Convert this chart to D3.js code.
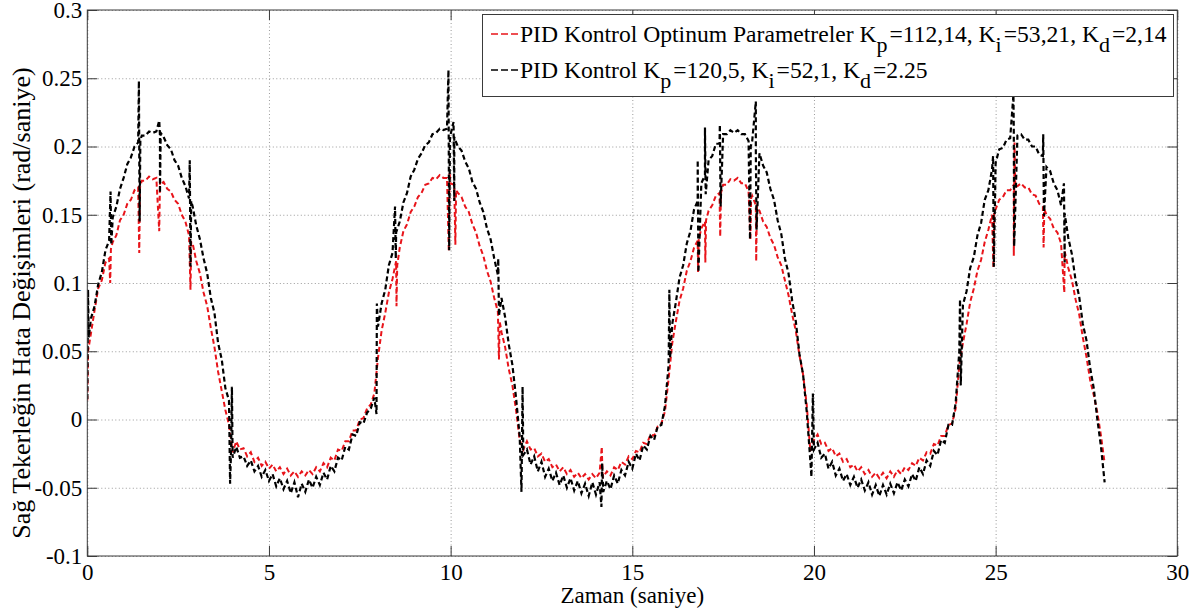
<!DOCTYPE html>
<html>
<head>
<meta charset="utf-8">
<script src="https://cdn.jsdelivr.net/npm/d3@7/dist/d3.min.js"></script>
<style>
  body { margin: 0; background: #fff; }
  svg { display: block; }
</style>
</head>
<body>
<svg id="chart" width="1199" height="612"></svg>
<script>
// Sampling step of the logged error signals (seconds)
const sampleStep = 0.1;

// Wheel error, PID with Kp=120.5, Ki=52.1, Kd=2.25 (rad/s), t = 0 … 28 s
const blackValues = [
  0.015, 0.074, 0.083, 0.099, 0.108, 0.124, 0.131, 0.148, 0.156, 0.169,
  0.177, 0.187, 0.192, 0.200, 0.203, 0.208, 0.208, 0.211, 0.210, 0.211,
  0.208, 0.207, 0.201, 0.198, 0.190, 0.186, 0.177, 0.171, 0.162, 0.156,
  0.142, 0.132, 0.118, 0.107, 0.089, 0.078, 0.056, 0.044, 0.023, 0.014,
  -0.028, -0.020, -0.028, -0.027, -0.034, -0.030, -0.038, -0.034, -0.042, -0.037,
  -0.045, -0.040, -0.049, -0.043, -0.051, -0.045, -0.054, -0.046, -0.057, -0.047,
  -0.053, -0.044, -0.050, -0.042, -0.048, -0.039, -0.044, -0.034, -0.038, -0.028,
  -0.030, -0.020, -0.022, -0.011, -0.012, -0.002, -0.003, 0.005, 0.008, 0.016,
  0.068, 0.085, 0.095, 0.113, 0.122, 0.137, 0.145, 0.159, 0.166, 0.178,
  0.183, 0.191, 0.195, 0.201, 0.203, 0.209, 0.210, 0.213, 0.212, 0.213,
  0.209, 0.207, 0.200, 0.197, 0.189, 0.184, 0.174, 0.169, 0.159, 0.152,
  0.140, 0.132, 0.118, 0.106, 0.089, 0.075, 0.055, 0.040, 0.016, -0.012,
  -0.026, -0.022, -0.033, -0.027, -0.038, -0.031, -0.042, -0.036, -0.045, -0.039,
  -0.048, -0.041, -0.050, -0.043, -0.052, -0.045, -0.054, -0.047, -0.056, -0.046,
  -0.055, -0.046, -0.053, -0.045, -0.051, -0.041, -0.047, -0.037, -0.041, -0.031,
  -0.036, -0.025, -0.030, -0.019, -0.022, -0.012, -0.015, -0.005, -0.004, 0.010,
  0.040, 0.070, 0.086, 0.104, 0.113, 0.129, 0.138, 0.154, 0.160, 0.173,
  0.179, 0.190, 0.193, 0.202, 0.202, 0.209, 0.209, 0.212, 0.210, 0.212,
  0.209, 0.209, 0.204, 0.204, 0.197, 0.195, 0.186, 0.181, 0.169, 0.161,
  0.146, 0.136, 0.118, 0.107, 0.087, 0.072, 0.048, 0.033, 0.006, -0.030,
  -0.022, -0.017, -0.028, -0.025, -0.036, -0.031, -0.041, -0.036, -0.045, -0.040,
  -0.048, -0.042, -0.050, -0.044, -0.052, -0.046, -0.055, -0.048, -0.056, -0.048,
  -0.055, -0.047, -0.054, -0.046, -0.052, -0.044, -0.049, -0.040, -0.045, -0.035,
  -0.040, -0.030, -0.034, -0.023, -0.026, -0.015, -0.017, -0.004, -0.004, 0.012,
  0.050, 0.084, 0.094, 0.111, 0.119, 0.135, 0.144, 0.161, 0.168, 0.183,
  0.188, 0.198, 0.199, 0.205, 0.206, 0.210, 0.208, 0.209, 0.205, 0.205,
  0.200, 0.200, 0.194, 0.193, 0.185, 0.182, 0.173, 0.168, 0.157, 0.151,
  0.133, 0.121, 0.102, 0.090, 0.070, 0.058, 0.038, 0.023, 0.000, -0.020,
  -0.046
];

// Wheel error, PID with optimum parameters Kp=112.14, Ki=53.21, Kd=2.14 (rad/s)
const redValues = [
  0.014, 0.063, 0.080, 0.096, 0.102, 0.115, 0.118, 0.130, 0.135, 0.146,
  0.150, 0.158, 0.161, 0.168, 0.170, 0.175, 0.175, 0.178, 0.176, 0.177,
  0.174, 0.174, 0.169, 0.167, 0.161, 0.158, 0.150, 0.145, 0.135, 0.129,
  0.116, 0.107, 0.093, 0.083, 0.067, 0.053, 0.035, 0.021, 0.007, -0.004,
  -0.024, -0.016, -0.022, -0.021, -0.027, -0.024, -0.031, -0.028, -0.034, -0.031,
  -0.036, -0.033, -0.038, -0.035, -0.040, -0.036, -0.041, -0.038, -0.042, -0.038,
  -0.041, -0.037, -0.040, -0.035, -0.038, -0.032, -0.035, -0.028, -0.030, -0.022,
  -0.023, -0.016, -0.016, -0.008, -0.008, 0.000, 0.001, 0.008, 0.011, 0.019,
  0.045, 0.065, 0.078, 0.093, 0.103, 0.116, 0.126, 0.138, 0.143, 0.152,
  0.156, 0.163, 0.166, 0.172, 0.173, 0.177, 0.176, 0.179, 0.177, 0.177,
  0.173, 0.172, 0.166, 0.163, 0.156, 0.152, 0.143, 0.137, 0.127, 0.120,
  0.109, 0.101, 0.089, 0.079, 0.064, 0.053, 0.037, 0.025, 0.007, -0.015,
  -0.022, -0.016, -0.022, -0.021, -0.027, -0.025, -0.031, -0.029, -0.035, -0.033,
  -0.038, -0.035, -0.040, -0.037, -0.042, -0.039, -0.043, -0.040, -0.044, -0.040,
  -0.043, -0.039, -0.042, -0.038, -0.041, -0.035, -0.037, -0.031, -0.033, -0.027,
  -0.029, -0.023, -0.024, -0.017, -0.018, -0.011, -0.012, -0.005, -0.003, 0.006,
  0.030, 0.056, 0.072, 0.087, 0.096, 0.109, 0.116, 0.126, 0.131, 0.140,
  0.145, 0.153, 0.157, 0.164, 0.166, 0.172, 0.172, 0.176, 0.175, 0.177,
  0.173, 0.173, 0.167, 0.164, 0.157, 0.153, 0.145, 0.141, 0.133, 0.128,
  0.119, 0.113, 0.102, 0.091, 0.077, 0.065, 0.047, 0.033, 0.011, -0.023,
  -0.015, -0.011, -0.018, -0.017, -0.023, -0.021, -0.027, -0.025, -0.031, -0.029,
  -0.035, -0.033, -0.038, -0.035, -0.040, -0.037, -0.042, -0.039, -0.043, -0.039,
  -0.043, -0.038, -0.042, -0.037, -0.040, -0.035, -0.037, -0.032, -0.034, -0.028,
  -0.030, -0.024, -0.025, -0.018, -0.019, -0.012, -0.012, -0.004, -0.003, 0.008,
  0.040, 0.056, 0.070, 0.086, 0.096, 0.109, 0.117, 0.130, 0.139, 0.150,
  0.154, 0.161, 0.163, 0.168, 0.168, 0.172, 0.171, 0.173, 0.170, 0.170,
  0.165, 0.164, 0.158, 0.156, 0.150, 0.147, 0.140, 0.137, 0.129, 0.123,
  0.111, 0.102, 0.088, 0.077, 0.060, 0.046, 0.029, 0.018, 0.005, -0.012,
  -0.032
];

// Short transients between samples: [time (s), value (rad/s)]
const blackSpikes = [
  [0.02, 0.095], [0.04, 0.060],
  [0.64, 0.167], [0.66, 0.128],
  [1.42, 0.248], [1.44, 0.145], [1.46, 0.205],
  [1.98, 0.219], [2.00, 0.166], [2.02, 0.210],
  [2.82, 0.190], [2.84, 0.112], [2.86, 0.160],
  [3.93, -0.047], [3.96, -0.020], [3.98, 0.024],
  [7.96, 0.004], [7.97, 0.085],
  [8.47, 0.156], [8.49, 0.118],
  [9.94, 0.256], [9.96, 0.124], [9.98, 0.205],
  [10.08, 0.218], [10.10, 0.160], [10.12, 0.205],
  [11.31, 0.118], [11.33, 0.076],
  [11.95, -0.053], [11.98, 0.024],
  [14.15, -0.064], [14.17, -0.032],
  [16.02, 0.095], [16.04, 0.045],
  [16.80, 0.190], [16.82, 0.108],
  [17.00, 0.214], [17.02, 0.165],
  [17.41, 0.216], [17.43, 0.156],
  [18.24, 0.132], [18.26, 0.200],
  [18.40, 0.233], [18.42, 0.139],
  [19.93, -0.042], [19.97, 0.019],
  [24.02, 0.088], [24.04, 0.025],
  [24.93, 0.193], [24.95, 0.112],
  [25.49, 0.238], [25.51, 0.127],
  [26.31, 0.209], [26.33, 0.149],
  [26.88, 0.173], [26.90, 0.115]
];

const redSpikes = [
  [0.02, 0.050],
  [0.63, 0.100], [0.65, 0.125],
  [1.43, 0.122], [1.45, 0.170],
  [1.98, 0.138], [2.00, 0.172],
  [2.84, 0.095], [2.86, 0.130],
  [8.51, 0.083], [8.53, 0.113],
  [9.95, 0.123], [9.97, 0.181],
  [10.13, 0.128], [10.15, 0.168],
  [11.33, 0.044], [11.35, 0.072],
  [14.16, -0.020], [14.18, -0.040],
  [16.81, 0.108], [16.83, 0.132],
  [17.01, 0.115], [17.03, 0.146],
  [17.42, 0.134], [17.44, 0.166],
  [18.25, 0.132], [18.27, 0.162],
  [18.41, 0.116], [18.43, 0.156],
  [24.94, 0.111], [24.96, 0.152],
  [25.50, 0.120], [25.52, 0.203], [25.54, 0.170],
  [26.32, 0.126], [26.34, 0.154],
  [26.89, 0.093], [26.91, 0.122]
];

const xTicks = [0, 5, 10, 15, 20, 25, 30];
const yTicks = [-0.1, -0.05, 0, 0.05, 0.1, 0.15, 0.2, 0.25, 0.3];
const yTickLabels = ["-0.1", "-0.05", "0", "0.05", "0.1", "0.15", "0.2", "0.25", "0.3"];

const xTitle = "Zaman (saniye)";
const yTitle = "Sağ Tekerleğin Hata Değişimleri (rad/saniye)";

// Legend rows: plain text pieces and subscript pieces
const legendRows = [
  { color: "#e8141a", parts: [["PID Kontrol Optinum Parametreler K", 0], ["p", 1], ["=112,14, K", 0], ["i", 1], ["=53,21, K", 0], ["d", 1], ["=2,14", 0]] },
  { color: "#000000", parts: [["PID Kontrol K", 0], ["p", 1], ["=120,5, K", 0], ["i", 1], ["=52,1, K", 0], ["d", 1], ["=2.25", 0]] }
];

const SERIF = "Liberation Serif";
const AXIS_COLOR = "#3a3a3a";

const svg = d3.select("#chart");
const margin = { left: 87.3, right: 1199 - 1177.3, top: 10, bottom: 612 - 556 };
const W = 1199, H = 612;
const plotW = W - margin.left - margin.right;
const plotH = H - margin.top - margin.bottom;

const x = d3.scaleLinear().domain([0, 30]).range([0, plotW]);
const y = d3.scaleLinear().domain([-0.1, 0.3]).range([plotH, 0]);

const g = svg.append("g").attr("transform", `translate(${margin.left},${margin.top})`);

// Dotted grid
g.append("g")
  .attr("transform", `translate(0,${plotH})`)
  .call(d3.axisBottom(x).tickValues(xTicks).tickSize(-plotH).tickFormat(""))
  .call(a => a.select(".domain").remove())
  .call(a => a.selectAll("line").attr("stroke", "#9a9a9a").attr("stroke-dasharray", "1,2.5"));
g.append("g")
  .call(d3.axisLeft(y).tickValues(yTicks).tickSize(-plotW).tickFormat(""))
  .call(a => a.select(".domain").remove())
  .call(a => a.selectAll("line").attr("stroke", "#9a9a9a").attr("stroke-dasharray", "1,2.5"));

// Series: regular samples merged with the short transients
function buildSeries(values, spikes) {
  const pts = values.map((v, i) => [i * sampleStep, v]).concat(spikes);
  return pts.sort((a, b) => a[0] - b[0]);
}
const redSeries = buildSeries(redValues, redSpikes);
const blackSeries = buildSeries(blackValues, blackSpikes);

svg.append("defs").append("clipPath").attr("id", "plotClip")
  .append("rect").attr("width", plotW).attr("height", plotH);

const line = d3.line().x(d => x(d[0])).y(d => y(d[1]));
const curves = g.append("g").attr("clip-path", "url(#plotClip)");
curves.append("path").datum(redSeries)
  .attr("d", line).attr("fill", "none")
  .attr("stroke", "#e8141a").attr("stroke-width", 2).attr("stroke-dasharray", "5,3");
curves.append("path").datum(blackSeries)
  .attr("d", line).attr("fill", "none")
  .attr("stroke", "#000").attr("stroke-width", 2.2).attr("stroke-dasharray", "5,3");

// Axes with inward ticks on all four sides
function styleAxis(a) {
  a.select(".domain").remove();
  a.attr("font-family", SERIF);
  a.selectAll("line").attr("stroke", AXIS_COLOR);
  a.selectAll("text").style("font-family", SERIF).attr("font-size", 23).attr("fill", "#000");
}
g.append("g").attr("transform", `translate(0,${plotH})`)
  .call(d3.axisBottom(x).tickValues(xTicks).tickSizeInner(-10).tickSizeOuter(0).tickPadding(8).tickFormat(d3.format("d")))
  .call(styleAxis);
g.append("g")
  .call(d3.axisLeft(y).tickValues(yTicks).tickSizeInner(-10).tickSizeOuter(0).tickPadding(5)
    .tickFormat((d, i) => yTickLabels[i]))
  .call(styleAxis);
g.append("g")
  .call(d3.axisTop(x).tickValues(xTicks).tickSizeInner(-10).tickSizeOuter(0).tickFormat(""))
  .call(styleAxis);
g.append("g").attr("transform", `translate(${plotW},0)`)
  .call(d3.axisRight(y).tickValues(yTicks).tickSizeInner(-10).tickSizeOuter(0).tickFormat(""))
  .call(styleAxis);

g.append("rect").attr("width", plotW).attr("height", plotH)
  .attr("fill", "none").attr("stroke", AXIS_COLOR).attr("stroke-width", 1);

// Axis titles
svg.append("text")
  .attr("x", margin.left + plotW / 2).attr("y", 603)
  .attr("text-anchor", "middle")
  .style("font-family", SERIF).attr("font-size", 23)
  .text(xTitle);
svg.append("text")
  .attr("transform", `translate(30,${303}) rotate(-90)`)
  .attr("text-anchor", "middle")
  .style("font-family", SERIF).attr("font-size", 26)
  .text(yTitle);

// Legend
const legend = svg.append("g");
legend.append("rect")
  .attr("x", 482.5).attr("y", 14.5).attr("width", 691).attr("height", 82)
  .attr("fill", "#fff").attr("stroke", AXIS_COLOR).attr("stroke-width", 1);
const rowBase = [42, 78];
legendRows.forEach((row, r) => {
  legend.append("line")
    .attr("x1", 491).attr("x2", 518)
    .attr("y1", rowBase[r] - 8).attr("y2", rowBase[r] - 8)
    .attr("stroke", row.color).attr("stroke-width", 1.6).attr("stroke-dasharray", "7,3");
  const t = legend.append("text")
    .attr("x", 520).attr("y", rowBase[r])
    .style("font-family", SERIF).attr("font-size", 23.6);
  row.parts.forEach(([s, sub], k) => {
    t.append("tspan")
      .attr("y", sub ? rowBase[r] + 10 : rowBase[r])
      .attr("dx", !sub && k > 0 ? 2 : 0)
      .style("font-family", SERIF)
      .attr("font-size", sub ? 22 : 23.6)
      .text(s);
  });
});
</script>
</body>
</html>
